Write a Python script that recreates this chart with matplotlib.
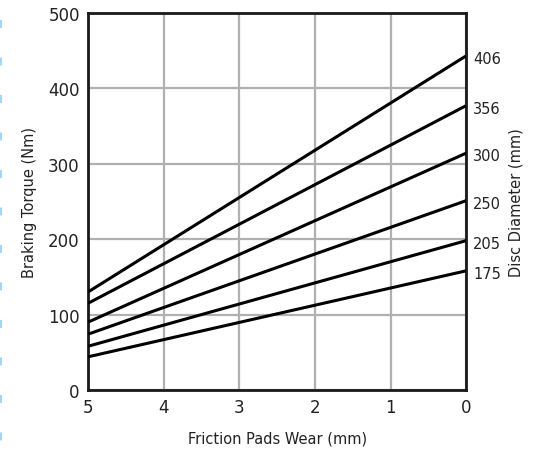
import matplotlib
matplotlib.use("Agg")
import matplotlib.pyplot as plt
from matplotlib.lines import Line2D

# pad wear (mm) at the two ends of each line
wear = [5, 0]
diameters = ["406", "356", "300", "250", "205", "175"]
torque_start = [130, 115, 90, 74, 58, 44]   # at 5 mm wear
torque_end = [443, 377, 314, 251, 198, 158]  # at 0 mm wear

x_ticks = [5, 4, 3, 2, 1, 0]
y_ticks = [0, 100, 200, 300, 400, 500]

plt.rcParams["font.family"] = ["DejaVu Sans"]

fig = plt.figure(figsize=(5.44, 4.6), dpi=100)
ax = fig.add_axes([0.162, 0.15, 0.695, 0.82])

for lo, hi in zip(torque_start, torque_end):
    ax.plot(wear, [lo, hi], color="black", linewidth=2.2, solid_capstyle="butt", zorder=3)

for d, hi in zip(diameters, torque_end):
    ax.annotate(d, xy=(0, hi), xytext=(5, -2), textcoords="offset points",
                ha="left", va="center", fontsize=10.5, color="#222222")

ax.set_xlim(5, 0)
ax.set_ylim(0, 500)
ax.set_xticks(x_ticks)
ax.set_yticks(y_ticks)
ax.tick_params(length=0, labelsize=12, colors="#222222", pad=6)
ax.grid(True, color="#b0b0b0", linewidth=1.6, zorder=0)
ax.set_axisbelow(True)
for spine in ax.spines.values():
    spine.set_color("#1a1a1a")
    spine.set_linewidth(2)

ax.set_xlabel("Friction Pads Wear (mm)", fontsize=10.5, color="#222222", labelpad=10)
ax.set_ylabel("Braking Torque (Nm)", fontsize=10.5, color="#222222", labelpad=8)
fig.text(0.948, 0.56, "Disc Diameter (mm)", rotation=90, ha="center", va="center",
         fontsize=10.5, color="#222222")

# faint dashed strip along the left edge of the original scan
fig.add_artist(Line2D([0.002, 0.002], [0.955, 0.0], color="#a8d4f4", linewidth=1.5,
                      dashes=(3.8, 14.2), solid_capstyle="butt",
                      transform=fig.transFigure))

fig.savefig("out.png", dpi=100)
